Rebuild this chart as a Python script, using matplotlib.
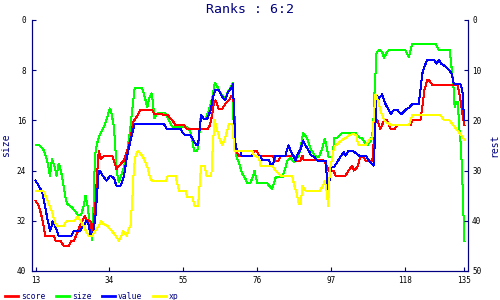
import matplotlib
matplotlib.use("Agg")
import matplotlib.pyplot as plt

# Series.
# size uses the left axis (0-40), the others use the right axis "rest" (0-50).
size_x = [13, 14.2, 15.4, 16.3, 17.1, 17.7, 18.5, 19.0, 19.6, 20.0, 20.6, 21.5, 22.0, 23.4, 25.0,
          26.0, 26.7, 27.2, 27.9, 28.4, 29.1, 29.4, 29.9, 30.5, 31.0, 31.5, 32.4, 33.4, 34.1,
          34.5, 35.3, 35.8, 36.2, 36.7, 37.2, 38.1, 39.0, 40.0, 40.4, 41.2, 43.3, 43.8, 44.8,
          45.3, 46.0, 46.4, 46.8, 47.6, 50.0, 50.9, 51.9, 56.1, 57.1, 57.9, 58.0, 59.0, 59.5,
          59.9, 61.4, 62.3, 63.3, 64.0, 64.7, 65.4, 66.1, 67.0, 67.5, 68.5, 69.1, 69.2, 69.9,
          70.2, 70.8, 71.8, 72.7, 73.2, 74.1, 74.9, 75.3, 76.0, 77.0, 78.9, 79.4, 80.3, 81.3,
          83.2, 84.1, 84.6, 85.5, 86.5, 87.0, 87.9, 88.4, 89.1, 90.3, 91.2, 92.4, 93.6, 94.5,
          95.3, 96.0, 96.4, 97.4, 98.0, 98.8, 100.2, 104.0, 105.0, 105.9, 106.9, 107.3, 108.3,
          109.0, 109.4, 110.0, 110.9, 111.6, 112.1, 113.0, 113.5, 118.2, 119.2, 120.1, 126.8,
          127.7, 130.8, 131.2, 131.8, 132.2, 132.6, 133.1, 133.5, 134.0, 134.4, 134.7, 135.0]
size_y = [20.0, 20.0, 20.8, 22.4, 24.8, 22.1, 23.5, 24.8, 22.9, 23.5, 25.1, 28.3, 29.3, 29.9, 31.0,
          31.0, 29.6, 28.0, 29.9, 32.5, 35.0, 31.7, 21.6, 19.7, 18.7, 18.1, 17.1, 15.5, 14.1,
          14.5, 17.1, 21.3, 24.5, 25.9, 25.1, 23.5, 21.3, 17.1, 14.9, 10.9, 10.9, 11.7, 13.9,
          12.5, 11.7, 13.1, 15.7, 14.9, 14.9, 16.0, 17.0, 17.0, 17.9, 20.0, 20.9, 20.9, 19.2,
          15.7, 15.7, 14.4, 12.3, 10.0, 10.6, 11.5, 12.0, 12.7, 11.7, 10.7, 10.0, 14.9, 20.8,
          21.9, 22.7, 24.5, 25.3, 26.0, 26.0, 24.8, 24.0, 25.9, 26.0, 26.0, 26.4, 26.9, 25.1,
          25.1, 23.5, 22.4, 21.9, 22.7, 22.2, 21.6, 20.3, 18.0, 18.9, 20.5, 21.6, 21.9, 20.5,
          18.9, 20.8, 21.9, 21.9, 18.8, 18.8, 18.0, 18.0, 18.7, 18.9, 19.7, 20.0, 19.3,
          17.6, 11.7, 5.1, 4.8, 5.1, 6.0, 5.1, 4.8, 4.8, 5.9, 3.8, 3.8,
          4.8, 4.8, 6.9, 10.1, 13.9, 13.1, 13.1, 17.0, 20.3, 25.6, 30.9, 35.2]

score_x = [13, 13.9, 14.6, 15.2, 15.8, 18.2, 18.7, 20.1, 21.0, 22.5, 23.2, 23.9, 24.7, 25.8, 26.6,
           27.0, 27.5, 28.6, 29.1, 29.6, 30.1, 30.5, 31.0, 31.5, 32.0, 32.9, 34.8, 35.6, 36.0,
           36.7, 38.1, 39.1, 40.0, 40.8, 41.4, 42.9, 46.2, 46.8, 50.5, 51.9, 52.8, 55.2, 56.1,
           61.8, 62.6, 63.3, 63.7, 64.2, 65.1, 66.1, 67.0, 68.0, 68.7, 69.2, 69.6, 69.9, 70.4,
           70.8, 74.6, 75.1, 76.0, 76.5, 80.3, 81.3, 82.2, 82.7, 86.5, 87.2, 88.4, 88.9, 89.3,
           93.1, 95.0, 95.8, 96.4, 97.8, 98.3, 101.2, 102.1, 103.1, 103.5, 104.5, 105.4, 106.2,
           106.9, 108.8, 109.2, 109.5, 110.2, 111.1, 112.1, 113.0, 114.0, 115.1, 115.9, 119.7,
           120.1, 122.5, 123.0, 123.6, 124.4, 124.9, 125.8, 133.0, 133.7, 134.4, 135.0]
score_y = [36, 37, 38.7, 40.7, 43, 43, 44, 44, 45, 45, 44, 44, 42.7, 40.7, 39.7,
           39.0, 39.9, 40.0, 42.7, 40.0, 36.0, 30.7, 26.0, 27.7, 27.3, 27.0, 27.0, 28.7, 29.7,
           29.1, 28.0, 26.0, 23.7, 20.3, 19.7, 17.9, 17.9, 18.7, 18.9, 20.0, 20.9, 20.9, 21.8,
           21.8, 21.0, 18.7, 16.5, 16.0, 17.7, 17.7, 16.7, 16.0, 15.2, 15.0, 19.3, 26.0, 26.5,
           27.0, 27.0, 26.1, 26.1, 27.0, 27.0, 28.0, 28.0, 27.0, 27.0, 28.0, 28.0, 27.0, 27.9,
           27.9, 28.0, 29.0, 30.0, 30.0, 31.0, 31.0, 29.9, 29.0, 30.0, 29.3, 27.3, 27.2,
           28.0, 28.0, 24.0, 19.3, 20.0, 21.7, 20.0, 20.0, 21.7, 21.7, 20.9, 20.9,
           19.9, 19.9, 17.3, 14.0, 11.9, 12.0, 12.9, 12.9, 15.3, 18.7, 21.0]

value_x = [13, 13.9, 14.9, 15.6, 16.3, 17.1, 17.5, 17.9, 18.7, 19.6, 23.2, 23.9, 25.8, 26.3, 27.5,
           28.2, 28.6, 29.4, 30.1, 30.5, 31.0, 31.5, 32.4, 33.2, 34.3, 35.3, 36.0, 37.2, 38.1,
           38.9, 40.0, 40.8, 41.2, 49.5, 50.3, 54.2, 55.2, 57.1, 58.0, 58.8, 59.2, 59.7, 60.1,
           60.9, 61.8, 62.8, 63.5, 64.2, 65.1, 66.1, 67.0, 67.5, 68.5, 69.2, 69.4, 69.9, 70.4,
           71.3, 71.6, 77.0, 77.4, 79.4, 79.8, 80.6, 81.0, 81.3, 84.1, 84.6, 85.0, 85.5, 86.3,
           87.0, 87.4, 88.4, 89.1, 89.8, 90.7, 91.4, 92.4, 93.1, 95.5, 95.8, 96.1, 96.4, 96.7,
           97.1, 98.0, 98.8, 99.7, 100.7, 101.2, 102.1, 103.1, 104.0, 105.0, 106.9, 107.8, 108.8,
           109.2, 109.5, 110.0, 110.6, 111.6, 112.5, 114.0, 114.9, 116.0, 117.0, 118.2, 119.2,
           120.1, 122.0, 122.5, 123.0, 123.6, 124.4, 126.3, 127.0, 127.7, 128.4, 129.6, 130.6,
           131.4, 132.0, 133.9, 134.4, 134.9, 135.0]
value_y = [32, 33, 34.3, 36.7, 39.3, 42, 41.3, 40, 41.3, 43, 43, 42, 42, 41.3, 40,
           41, 42.7, 42.7, 38.7, 34.7, 30, 30.3, 31.3, 32, 31, 31.5, 33, 33, 31.3,
           27.7, 24, 21.7, 20.7, 20.7, 21.7, 21.7, 22.8, 23, 24.1, 25, 25, 21.7, 19,
           19.7, 19.7, 18, 15.3, 13.9, 13.9, 15.3, 16, 14.7, 13.7, 12.8, 18, 25, 26,
           26, 27, 27, 27.9, 27.9, 28.7, 28.7, 27.3, 27, 27, 25.7, 25, 26, 27,
           28, 27, 25.7, 24, 25, 26, 27, 27.3, 28, 28, 30.7, 34.7, 33.3, 31.3,
           29.2, 29.2, 28.3, 27.3, 26.3, 27, 26, 26, 26.5, 27, 27, 28, 28.7,
           29, 24, 15, 15.7, 14.8, 16.7, 18.7, 18, 18, 18.8, 17.9, 17.5,
           16.8, 16.8, 13.7, 10.7, 9.3, 7.9, 7.9, 8.7, 8.0, 8.7, 9.3, 10.0,
           10.7, 12.8, 12.8, 14.0, 20.0, 20.0]

xp_x = [13, 15.2, 15.8, 16.8, 17.7, 18.4, 19.0, 21.0, 21.8, 23.9, 25.0, 25.8, 26.7, 27.5, 28.2,
        29.1, 30.1, 31.0, 31.7, 32.4, 33.4, 34.3, 35.8, 36.7, 37.4, 37.9, 38.9, 39.5, 40.0,
        40.5, 41.0, 41.4, 42.1, 42.9, 43.6, 44.8, 45.5, 46.2, 50.0, 50.7, 52.8, 53.8, 55.7,
        56.1, 57.6, 58.2, 59.2, 59.7, 60.1, 61.1, 61.6, 63.0, 63.4, 63.9, 64.7, 65.4, 66.1,
        67.0, 68.0, 69.0, 69.2, 69.6, 74.6, 75.1, 76.5, 77.0, 80.3, 81.3, 82.7, 86.0, 86.5,
        87.2, 87.9, 88.4, 88.9, 89.8, 93.9, 94.5, 95.0, 95.3, 96.0, 96.1, 96.4, 96.7, 97.4,
        98.0, 98.8, 99.7, 101.2, 102.1, 103.5, 104.3, 104.7, 105.2, 106.9, 107.5, 108.1, 108.8,
        109.2, 109.7, 110.4, 111.1, 112.1, 113.0, 114.0, 119.2, 120.1, 128.2, 129.1, 130.6,
        131.5, 133.0, 134.4, 135.0]
xp_y = [34, 34, 35, 36.7, 38.3, 40, 41, 41, 40.1, 40.1, 39.2, 40, 41, 42.3, 43,
        43, 41.9, 41, 40.1, 40.7, 41, 41.7, 43, 44, 43, 42.1, 43, 41.7, 41,
        36, 29.3, 27.3, 26, 26.7, 27.3, 29.3, 31.3, 32.1, 32.1, 31, 31, 34, 34,
        35.2, 35.2, 37, 37, 32.7, 29, 29, 31, 31, 25.3, 19.9, 22, 23.7, 25,
        23.3, 20.8, 20.8, 22.7, 26, 26, 27, 27.3, 29, 29, 30, 31, 31, 32.7,
        34.3, 36.7, 36.7, 33, 34, 34, 33.3, 32.7, 32, 35, 37, 34.7, 30, 27.3,
        25.2, 24.8, 24.1, 23.5, 23, 22.7, 23, 24.7, 25, 25, 24.3, 23.7, 23.7,
        19.3, 14.8, 16, 18, 19.9, 20.5, 20.9, 20.9, 19, 19, 19.9, 19.9,
        20.7, 22, 23.2, 23.9]

x_ticks = [13, 34, 55, 76, 97, 118, 135]
left_ticks = [0, 8, 16, 24, 32, 40]
right_ticks = [0, 10, 20, 30, 40, 50]

navy = "#000080"
plt.rcParams["font.family"] = "DejaVu Sans Mono"

fig = plt.figure(figsize=(5, 3), dpi=100)
ax = fig.add_axes([0.064, 0.0967, 0.872, 0.8367])
ax2 = ax.twinx()

# Thin one-pixel lines without smoothing, like the original bitmap chart.
lw = 0.72
l_score, = ax2.plot(score_x, score_y, color="#ff0000", lw=lw, label="score", antialiased=False)
l_size, = ax.plot(size_x, size_y, color="#00ff00", lw=lw, label="size", antialiased=False)
l_value, = ax2.plot(value_x, value_y, color="#0000ff", lw=lw, label="value", antialiased=False)
l_xp, = ax2.plot(xp_x, xp_y, color="#ffff00", lw=lw, label="xp", antialiased=False)

ax.set_xlim(12, 136)
ax.set_ylim(40, 0)
ax2.set_ylim(50, 0)
ax.set_xticks(x_ticks)
ax.set_yticks(left_ticks)
ax2.set_yticks(right_ticks)

for a in (ax, ax2):
  for side in ("left", "right", "bottom"):
    a.spines[side].set_color(navy)
    a.spines[side].set_linewidth(0.8)
  a.spines["top"].set_visible(False)
  a.tick_params(direction="in", length=3, width=0.8, color=navy, labelsize=5.5, labelcolor="black")
ax.tick_params(axis="y", pad=4.3)
ax.tick_params(axis="x", pad=3.6)
ax2.tick_params(axis="y", pad=2.9)

ax.set_title("Ranks : 6:2", color=navy, fontsize=9.5, pad=5)
ax.set_ylabel("size", color=navy, fontsize=7, labelpad=4)
ax2.set_ylabel("rest", color=navy, fontsize=7, labelpad=6)

leg = fig.legend(handles=[l_score, l_size, l_value, l_xp], loc="lower left",
                 bbox_to_anchor=(0.0, -0.02), ncol=4, frameon=False, fontsize=5.8,
                 handlelength=1.6, handletextpad=0.4, columnspacing=1.3, borderaxespad=0.2)
for t in leg.get_texts():
  t.set_color(navy)
for h in leg.get_lines():
  h.set_linewidth(2)

fig.savefig("out.png", dpi=100)
